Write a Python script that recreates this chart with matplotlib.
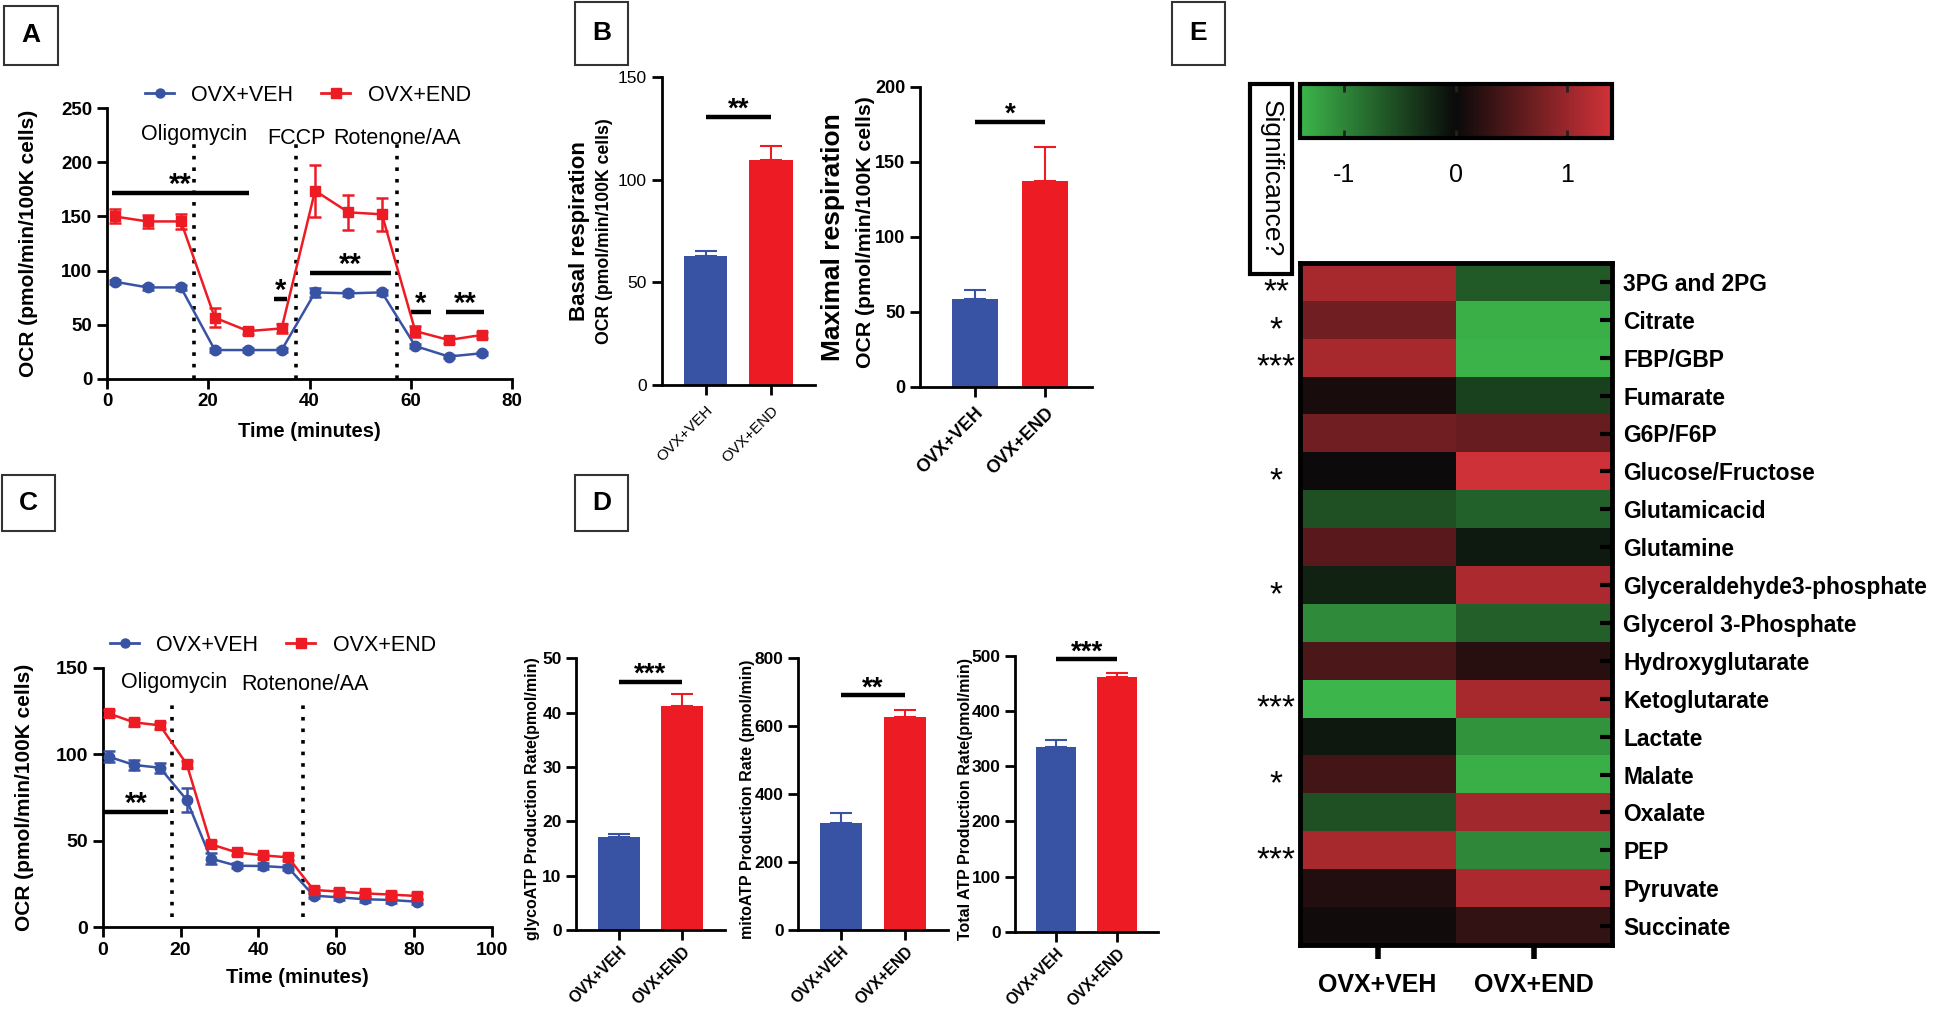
import matplotlib
matplotlib.use('Agg')
import matplotlib.pyplot as plt
from matplotlib.colors import LinearSegmentedColormap, Normalize
from matplotlib.lines import Line2D
from matplotlib.patches import Rectangle

plt.rcParams['font.family'] = ['Liberation Sans', 'DejaVu Sans']

BLUE = '#3953a4'
RED = '#ed1c24'

groups = ['OVX+VEH', 'OVX+END']

# ---- panel A : mito stress test ----
a_time = [1.5, 8.0, 14.6, 21.3, 27.9, 34.5, 41.1, 47.7, 54.3, 60.9, 67.5, 74.0]
a_veh = [89.7, 84.4, 84.4, 26.5, 26.5, 26.5, 79.8, 78.9, 79.8, 30.2, 20.5, 23.5]
a_veh_err = [2.0, 2.0, 2.0, 2.0, 2.0, 2.0, 4.5, 2.0, 2.0, 2.0, 1.5, 1.5]
a_end = [150.0, 145.4, 145.4, 56.4, 44.0, 46.5, 173.8, 153.8, 152.0, 44.0, 35.8, 40.4]
a_end_err = [6.5, 6.0, 7.0, 9.0, 3.0, 4.0, 24.0, 16.5, 15.0, 5.0, 3.0, 3.0]
a_drugs = ['Oligomycin', 'FCCP', 'Rotenone/AA']
a_drug_t = [17.2, 37.4, 57.2]
a_sig_x0 = [1, 33, 40, 60, 67]
a_sig_x1 = [28, 35.5, 56, 64, 74.5]
a_sig_y = [172, 74, 98, 62, 62]
a_sig_txt = ['**', '*', '**', '*', '**']

# ---- panel C : ATP rate test ----
c_time = [1.5, 8.1, 14.7, 21.6, 27.8, 34.4, 41.1, 47.7, 54.2, 60.8, 67.4, 74.0, 80.7]
c_veh = [98.6, 93.8, 92.2, 73.6, 39.7, 35.6, 35.4, 34.5, 18.3, 17.3, 16.2, 15.8, 14.8]
c_veh_err = [3.0, 3.0, 3.0, 7.0, 3.0, 1.5, 1.5, 1.5, 1.5, 1.5, 1.5, 1.5, 1.5]
c_end = [123.6, 118.4, 116.7, 94.3, 48.0, 43.3, 41.6, 40.4, 21.6, 20.6, 19.6, 18.9, 18.1]
c_end_err = [2.0, 2.0, 2.0, 2.0, 2.0, 1.5, 1.5, 1.5, 1.5, 1.5, 1.5, 1.5, 1.5]
c_drugs = ['Oligomycin', 'Rotenone/AA']
c_drug_t = [17.9, 51.4]

# ---- panel B / D : bar summaries ----
basal = [62.9, 109.5]
basal_err = [2.6, 7.0]
maximal = [58.2, 137.3]
maximal_err = [6.2, 22.7]
glyco_atp = [17.1, 41.3]
glyco_atp_err = [0.5, 2.1]
mito_atp = [314, 626]
mito_atp_err = [31.5, 22]
total_atp = [334.3, 462.5]
total_atp_err = [13.3, 7.3]

# ---- panel E : metabolite heatmap ----
metabolites = ['3PG and 2PG', 'Citrate', 'FBP/GBP', 'Fumarate', 'G6P/F6P',
               'Glucose/Fructose', 'Glutamicacid', 'Glutamine',
               'Glyceraldehyde3-phosphate', 'Glycerol 3-Phosphate',
               'Hydroxyglutarate', 'Ketoglutarate', 'Lactate', 'Malate',
               'Oxalate', 'PEP', 'Pyruvate', 'Succinate']
veh_z = [1.1, 0.72, 1.1, 0.1, 0.72, 0.02, -0.57, 0.55, -0.2, -1.05,
         0.45, -1.4, -0.12, 0.4, -0.57, 1.1, 0.17, 0.05]
end_z = [-0.65, -1.35, -1.38, -0.45, 0.65, 1.37, -0.72, -0.13, 1.13, -0.7,
         0.2, 1.1, -1.12, -1.35, 1.05, -1.03, 1.13, 0.28]
significance = ['**', '*', '***', '', '', '*', '', '', '*', '',
                '', '***', '', '*', '', '***', '', '']

W, H = 1937, 1009


def rect(l, t, r, b):
    return [l / W, 1 - b / H, (r - l) / W, (b - t) / H]


def clean(ax, lw=2.0):
    for s in ['top', 'right']:
        ax.spines[s].set_visible(False)
    for s in ['left', 'bottom']:
        ax.spines[s].set_linewidth(lw)
    ax.tick_params(width=lw, length=7, color='k')


def panel_letter(fig, letter, l, t, r, b):
    fig.add_artist(Rectangle((l / W, 1 - b / H), (r - l) / W, (b - t) / H,
                             transform=fig.transFigure, fill=False, lw=1.5, ec='#333'))
    fig.text((l + r) / 2 / W, 1 - (t + b) / 2 / H, letter, ha='center', va='center',
             fontsize=19, fontweight='bold')


def line_panel(ax, t, veh, veh_err, end, end_err):
    kw = dict(lw=1.8, elinewidth=1.8, capsize=4.5, capthick=1.8, zorder=3)
    ax.errorbar(t, veh, yerr=veh_err, color=BLUE, marker='o', ms=7.5, **kw)
    ax.errorbar(t, end, yerr=end_err, color=RED, marker='s', ms=7, **kw)


def legend(ax, x, y):
    handles = [Line2D([], [], color=BLUE, marker='o', ms=6.5, lw=2),
               Line2D([], [], color=RED, marker='s', ms=6.5, lw=2)]
    ax.legend(handles, groups, loc='center left', bbox_to_anchor=(x, y), ncol=2,
              frameon=False, fontsize=15.5, handlelength=1.35, handletextpad=0.8,
              columnspacing=1.3, borderpad=0, borderaxespad=0)


def bar_panel(ax, vals, errs, ylim, yticks, sig_y, stars, tick_fs, tick_bold, xl_fs, xl_bold,
              xlim=(-0.67, 1.67), xpad=6):
    ax.bar([0, 1], vals, width=0.66, color=[BLUE, RED], zorder=2)
    for i, c in enumerate([BLUE, RED]):
        ax.errorbar(i, vals[i], yerr=[[0], [errs[i]]], color=c, lw=1.5, capsize=8,
                    capthick=1.5, zorder=1)
    ax.plot([0, 1], [sig_y, sig_y], color='k', lw=3.2, solid_capstyle='butt')
    ax.text(0.5, sig_y, stars, ha='center', va='baseline', fontsize=20, fontweight='bold')
    ax.set_xlim(*xlim)
    ax.set_ylim(*ylim)
    ax.set_yticks(yticks)
    ax.set_xticks([0, 1])
    ax.set_xticklabels(groups, rotation=45, ha='right', rotation_mode='anchor',
                       fontsize=xl_fs, fontweight='bold' if xl_bold else 'normal')
    for lab in ax.get_yticklabels():
        lab.set_fontsize(tick_fs)
        lab.set_fontweight('bold' if tick_bold else 'normal')
    clean(ax)
    ax.tick_params(axis='x', pad=xpad)


fig = plt.figure(figsize=(W / 100, H / 100), dpi=100)

# ---------- A ----------
ax = fig.add_axes(rect(107, 108.3, 512, 378.7))
for t in a_drug_t:
    ax.axvline(t, ymin=0, ymax=0.88, color='k', ls=(0, (1, 2.2)), lw=2.6, zorder=1)
line_panel(ax, a_time, a_veh, a_veh_err, a_end, a_end_err)
for x0, x1, y, s in zip(a_sig_x0, a_sig_x1, a_sig_y, a_sig_txt):
    ax.plot([x0, x1], [y, y], color='k', lw=3.2, solid_capstyle='butt')
    ax.text((x0 + x1) / 2, y, s, ha='center', va='baseline', fontsize=21, fontweight='bold')
for name, t, yy in zip(a_drugs, a_drug_t, [221, 217, 217]):
    ax.text(t, yy, name, ha='center', va='baseline', fontsize=15.5)
ax.set_xlim(0, 80)
ax.set_ylim(0, 250)
ax.set_xticks(range(0, 81, 20))
ax.set_yticks(range(0, 251, 50))
clean(ax)
ax.tick_params(labelsize=13.5)
for lab in ax.get_xticklabels() + ax.get_yticklabels():
    lab.set_fontweight('bold')
ax.text(0.5, -0.197, 'Time (minutes)', transform=ax.transAxes, ha='center', va='center',
        fontsize=14.5, fontweight='bold')
ax.text(-0.195, 0.5, 'OCR (pmol/min/100K cells)', transform=ax.transAxes, rotation=90,
        ha='center', va='center', fontsize=15, fontweight='bold')
legend(ax, 0.094, 1.049)

# ---------- B ----------
ax = fig.add_axes(rect(661.7, 77.3, 815, 385))
bar_panel(ax, basal, basal_err, (0, 150), [0, 50, 100, 150], 130.8, '**', 12.5, False, 11, False)
ax.text(-0.533, 0.5, 'Basal respiration', transform=ax.transAxes, rotation=90,
        ha='center', va='center', fontsize=16, fontweight='bold')
ax.text(-0.37, 0.5, 'OCR (pmol/min/100K cells)', transform=ax.transAxes, rotation=90,
        ha='center', va='center', fontsize=12.7, fontweight='bold')

ax = fig.add_axes(rect(920, 86.7, 1091.7, 386.7))
bar_panel(ax, maximal, maximal_err, (0, 200), [0, 50, 100, 150, 200], 176.7, '*', 13, True, 13,
          True, xlim=(-0.786, 1.667))
ax.text(-0.505, 0.5, 'Maximal respiration', transform=ax.transAxes, rotation=90,
        ha='center', va='center', fontsize=19, fontweight='bold')
ax.text(-0.315, 0.515, 'OCR (pmol/min/100K cells)', transform=ax.transAxes, rotation=90,
        ha='center', va='center', fontsize=15.3, fontweight='bold')

# ---------- C ----------
ax = fig.add_axes(rect(102.7, 667.7, 491.7, 927.3))
for t in c_drug_t:
    ax.axvline(t, ymin=0.04, ymax=0.86, color='k', ls=(0, (1, 2.2)), lw=2.6, zorder=1)
line_panel(ax, c_time, c_veh, c_veh_err, c_end, c_end_err)
ax.plot([0, 16.9], [66.8, 66.8], color='k', lw=3.2, solid_capstyle='butt')
ax.text(8.7, 66.8, '**', ha='center', va='baseline', fontsize=21, fontweight='bold')
for name, t, yy in zip(c_drugs, c_drug_t, [138, 137]):
    ax.text(t + 0.5, yy, name, ha='center', va='baseline', fontsize=15.5)
ax.set_xlim(0, 100)
ax.set_ylim(0, 150)
ax.set_xticks(range(0, 101, 20))
ax.set_yticks(range(0, 151, 50))
clean(ax)
ax.tick_params(labelsize=14)
for lab in ax.get_xticklabels() + ax.get_yticklabels():
    lab.set_fontweight('bold')
ax.text(0.5, -0.195, 'Time (minutes)', transform=ax.transAxes, ha='center', va='center',
        fontsize=14.5, fontweight='bold')
ax.text(-0.2, 0.5, 'OCR (pmol/min/100K cells)', transform=ax.transAxes, rotation=90,
        ha='center', va='center', fontsize=15, fontweight='bold')
legend(ax, 0.019, 1.087)

# ---------- D ----------
ax = fig.add_axes(rect(576.1, 658.3, 724.7, 930))
bar_panel(ax, glyco_atp, glyco_atp_err, (0, 50), range(0, 51, 10), 45.7, '***', 12.5, True, 11.2,
          True, xpad=3)
ax.text(-0.295, 0.484, 'glycoATP Production Rate(pmol/min)', transform=ax.transAxes,
        rotation=90, ha='center', va='center', fontsize=11.5, fontweight='bold')

ax = fig.add_axes(rect(798.3, 658.3, 947.8, 930))
bar_panel(ax, mito_atp, mito_atp_err, (0, 800), range(0, 801, 200), 691, '**', 12.5, True, 11.2,
          True, xpad=3)
ax.text(-0.342, 0.48, 'mitoATP Production Rate (pmol/min)', transform=ax.transAxes,
        rotation=90, ha='center', va='center', fontsize=11.5, fontweight='bold')

ax = fig.add_axes(rect(1015.3, 656, 1158, 931.7))
bar_panel(ax, total_atp, total_atp_err, (0, 500), range(0, 501, 100), 494, '***', 12.5, True, 11.2,
          True, xpad=3)
ax.text(-0.35, 0.48, 'Total ATP Production Rate(pmol/min)', transform=ax.transAxes,
        rotation=90, ha='center', va='center', fontsize=11.5, fontweight='bold')

# ---------- E ----------
cmap = LinearSegmentedColormap.from_list('gbr', ['#3cb54a', '#0a0a0a', '#d23238'])
norm = Normalize(vmin=-1.4, vmax=1.4)
heat = [[v, e] for v, e in zip(veh_z, end_z)]
ax = fig.add_axes(rect(1299.5, 263, 1612, 945))
im = ax.imshow(heat, cmap=cmap, norm=norm, aspect='auto', interpolation='nearest')
ax.set_xticks([0, 1])
ax.set_xticklabels(groups, fontsize=18, fontweight='bold')
ax.set_yticks(range(len(metabolites)))
ax.set_yticklabels(metabolites, fontsize=16.4, fontweight='bold')
ax.yaxis.tick_right()
ax.tick_params(axis='y', direction='in', length=9, width=3, pad=8)
ax.tick_params(axis='x', direction='out', length=10, width=4, pad=10)
for s in ax.spines.values():
    s.set_linewidth(3.5)
for i, s in enumerate(significance):
    if s:
        ax.text(-0.075, i + 0.5, s, transform=ax.get_yaxis_transform(), ha='center',
                va='baseline', fontsize=24)

cax = fig.add_axes(rect(1299.5, 84, 1612, 138))
cb = fig.colorbar(im, cax=cax, orientation='horizontal', ticks=[-1, 0, 1])
cb.outline.set_linewidth(3)
cax.tick_params(direction='in', length=6, width=2, color='#222', labelsize=18, pad=18,
                top=True, bottom=True)
cax.set_xticklabels(['-1', '0', '1'])

fig.add_artist(Rectangle((1250 / W, 1 - 274 / H), 42 / W, 190 / H, transform=fig.transFigure,
                         fill=False, lw=3, ec='k'))
fig.text(1271 / W, 1 - 179 / H, 'Significance?', rotation=270, ha='center', va='center',
         fontsize=19)

panel_letter(fig, 'A', 4, 6, 58, 65)
panel_letter(fig, 'B', 575, 2, 628, 65)
panel_letter(fig, 'C', 2, 475, 55, 531)
panel_letter(fig, 'D', 575, 475, 628, 531)
panel_letter(fig, 'E', 1172, 2, 1225, 65)

fig.savefig('out.png', dpi=100)
